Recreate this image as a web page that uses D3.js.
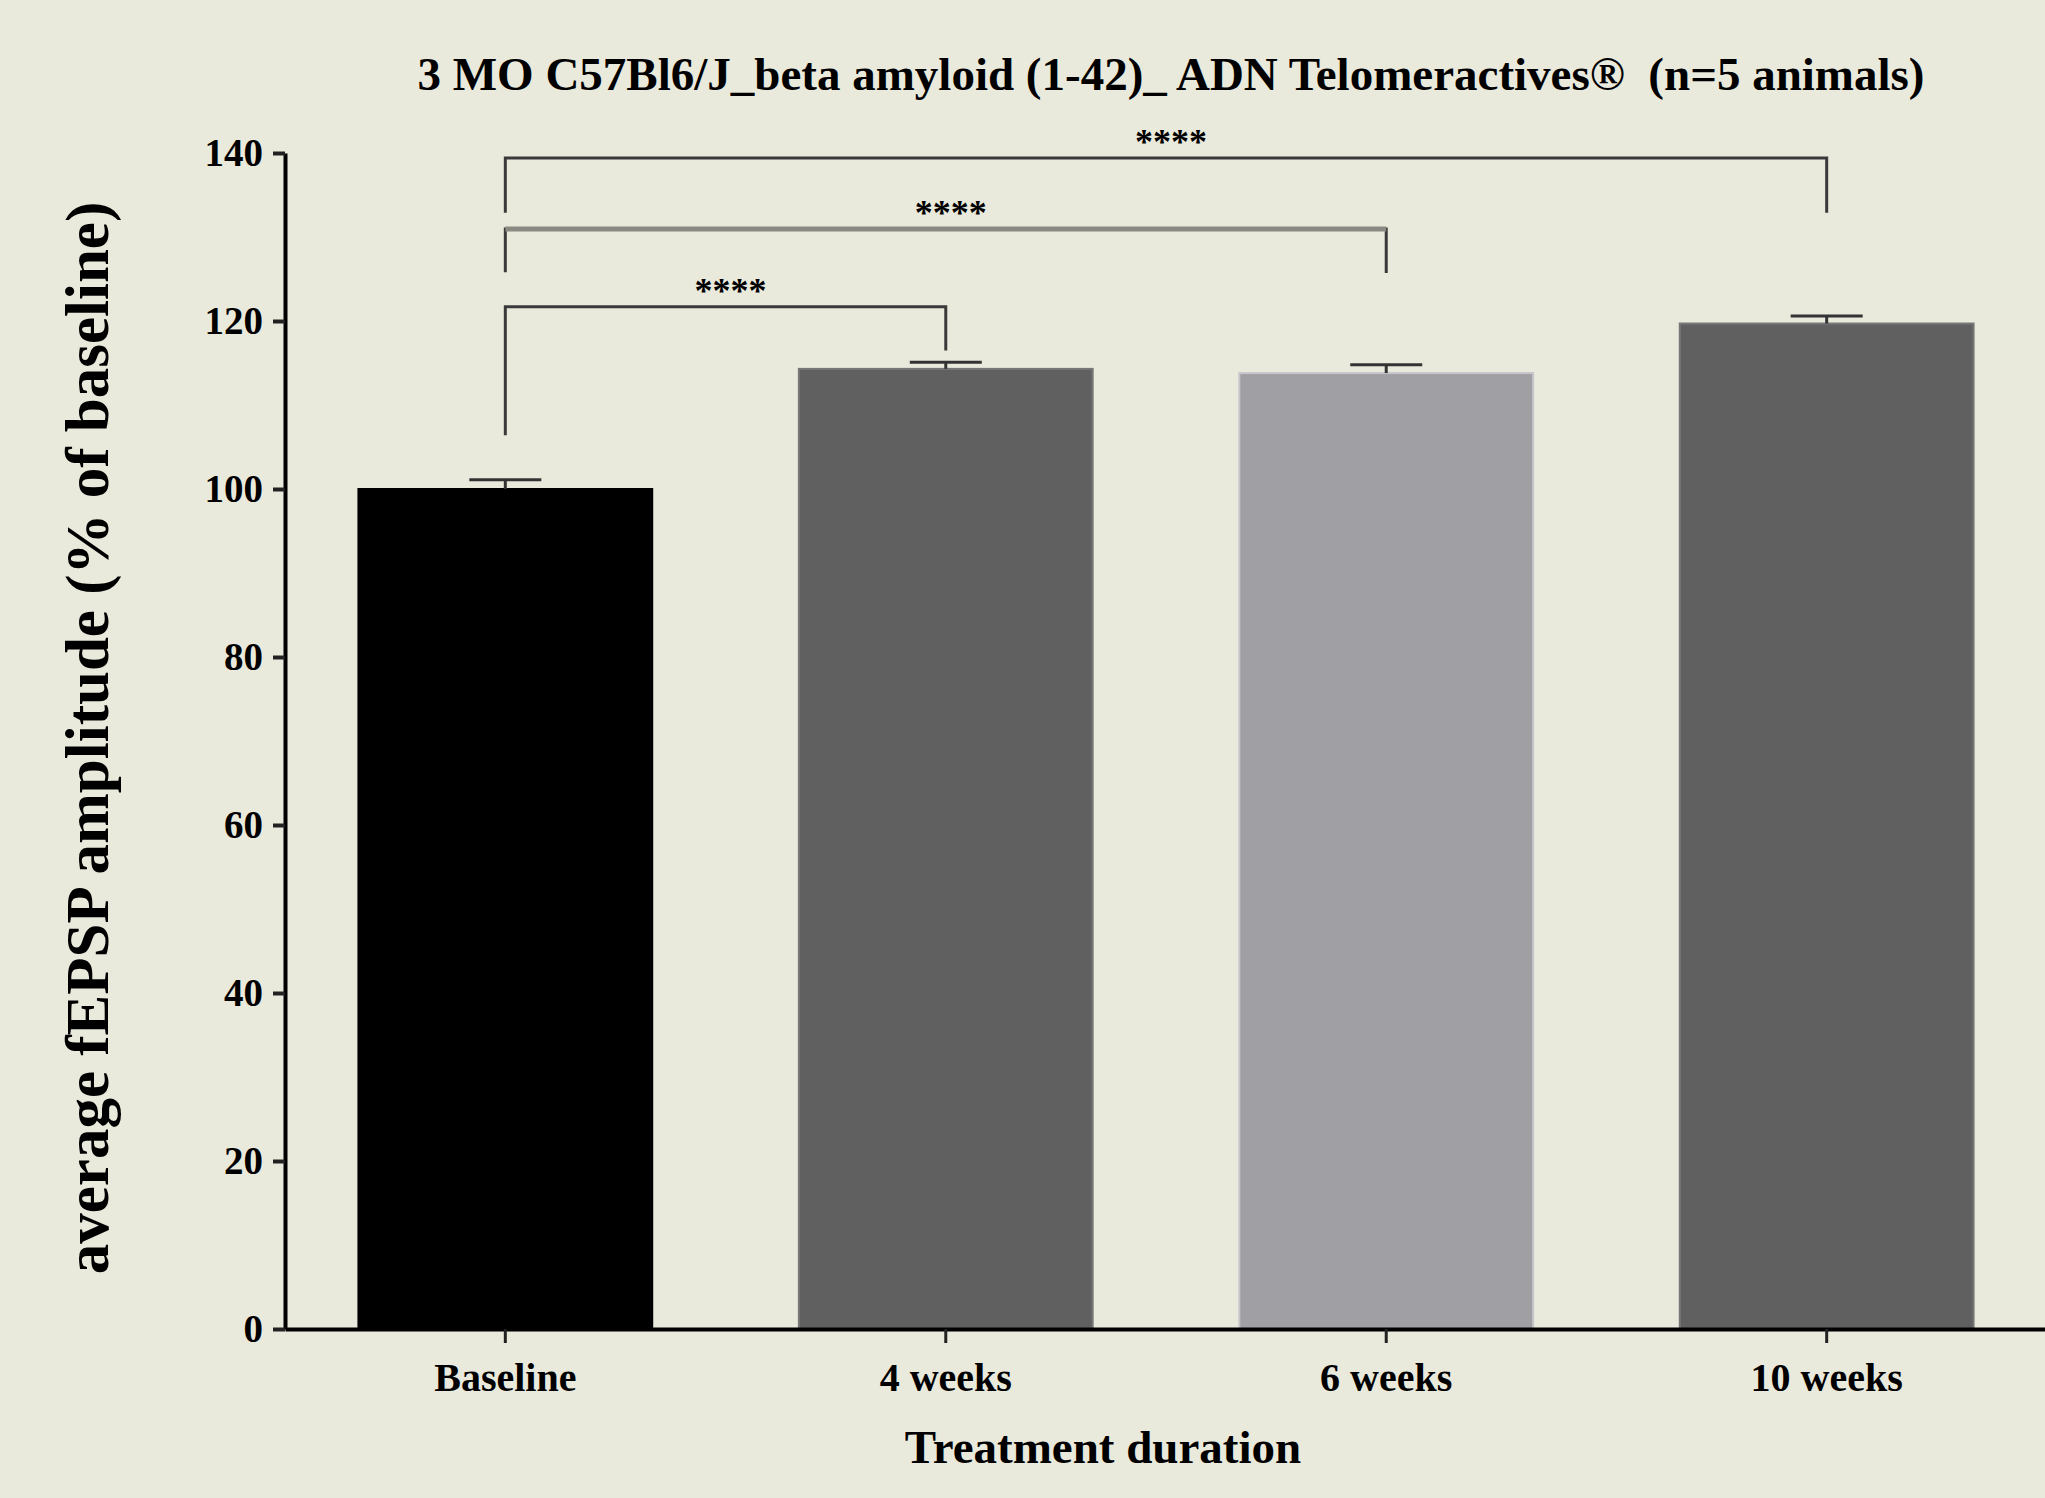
<!DOCTYPE html>
<html>
<head>
<meta charset="utf-8">
<script src="https://cdn.jsdelivr.net/npm/d3@7"></script>
<style>
    body { margin: 0; background: #e9e9dc; }
    svg { display: block; }
    text { font-family: "Liberation Serif", "Times New Roman", serif; font-weight: bold; fill: #000; }
</style>
</head>
<body>
<svg id="chart" width="2045" height="1498"></svg>
<script>
// data
const categories = ['Baseline', '4 weeks', '6 weeks', '10 weeks'];
const means = [100, 114.3, 113.8, 119.7];
const sems = [1.1, 0.8, 1.0, 0.9];
const barColors = ['#000000', '#606060', '#a09fa4', '#606060'];
const yTicks = [0, 20, 40, 60, 80, 100, 120, 140];

// significance brackets: from / to category, height of the bar, leg ends, label
const brackets = [
    {from: 'Baseline', to: '4 weeks', top: 121.7, leftEnd: 106.4, rightEnd: 116.5, label: '****'},
    {from: 'Baseline', to: '6 weeks', top: 130.95, leftEnd: 125.8, rightEnd: 125.7, label: '****'},
    {from: 'Baseline', to: '10 weeks', top: 139.4, leftEnd: 132.9, rightEnd: 132.9, label: '****'}
];

const titleText = '3 MO C57Bl6/J_beta amyloid (1-42)_ ADN Telomeractives\u00AE\u00A0\u00A0(n=5 animals)';
const yLabelText = 'average fEPSP amplitude (% of baseline)';
const xLabelText = 'Treatment duration';

const svg = d3.select('#chart');
const svgWidth = parseInt(svg.attr('width'));
const svgHeight = parseInt(svg.attr('height'));

svg.append('rect')
    .attr('width', svgWidth)
    .attr('height', svgHeight)
    .attr('fill', '#e9e9dc');

// plot area
const plotLeft = 285;
const plotRight = 2047;
const plotTop = 153;
const plotBottom = 1329;

const xScale = d3.scaleBand()
    .domain(categories)
    .range([plotLeft, plotRight])
    .paddingInner(0.333)
    .paddingOuter(0.1667);

const yScale = d3.scaleLinear()
    .domain([0, 140])
    .range([plotBottom, plotTop]);

const rows = categories.map((c, i) => ({cat: c, mean: means[i], sem: sems[i], color: barColors[i]}));

// bars
svg.selectAll('rect.bar')
    .data(rows)
    .enter()
    .append('rect')
    .attr('class', 'bar')
    .attr('x', (d) => xScale(d.cat))
    .attr('y', (d) => yScale(d.mean))
    .attr('width', xScale.bandwidth())
    .attr('height', (d) => yScale(0) - yScale(d.mean))
    .attr('fill', (d) => d.color)
    .attr('stroke', (d) => d3.color(d.color).brighter(0.6))
    .attr('stroke-width', 2);

// error bars (upper only)
const capHalf = 36;
const errors = svg.append('g')
    .attr('stroke', '#333')
    .attr('stroke-width', 3);
rows.forEach((d) => {
    const cx = xScale(d.cat) + xScale.bandwidth() / 2;
    errors.append('line')
        .attr('x1', cx).attr('x2', cx)
        .attr('y1', yScale(d.mean)).attr('y2', yScale(d.mean + d.sem));
    errors.append('line')
        .attr('x1', cx - capHalf).attr('x2', cx + capHalf)
        .attr('y1', yScale(d.mean + d.sem)).attr('y2', yScale(d.mean + d.sem));
});

// axes
const yAxis = d3.axisLeft(yScale)
    .tickValues(yTicks)
    .tickSize(12)
    .tickPadding(10)
    .tickSizeOuter(0);

const yAxisGroup = svg.append('g')
    .attr('transform', `translate(${plotLeft}, 0)`)
    .call(yAxis);
yAxisGroup.select('.domain')
    .attr('stroke', '#000')
    .attr('stroke-width', 4);
yAxisGroup.selectAll('.tick line')
    .attr('stroke', '#222')
    .attr('stroke-width', 4);
yAxisGroup.selectAll('.tick text')
    .attr('font-family', '"Liberation Serif", serif')
    .attr('font-weight', 'bold')
    .attr('font-size', 39)
    .attr('fill', '#000');

const xAxis = d3.axisBottom(xScale)
    .tickSize(14)
    .tickPadding(20)
    .tickSizeOuter(0);

const xAxisGroup = svg.append('g')
    .attr('transform', `translate(0, ${plotBottom})`)
    .call(xAxis);
xAxisGroup.select('.domain')
    .attr('stroke', '#000')
    .attr('stroke-width', 4);
xAxisGroup.selectAll('.tick line')
    .attr('stroke', '#222')
    .attr('stroke-width', 3);
xAxisGroup.selectAll('.tick text')
    .attr('font-family', '"Liberation Serif", serif')
    .attr('font-weight', 'bold')
    .attr('font-size', 40)
    .attr('fill', '#000');

// brackets
const center = (c) => xScale(c) + xScale.bandwidth() / 2;
brackets.forEach((b, i) => {
    const x1 = center(b.from);
    const x2 = center(b.to);
    const yTop = yScale(b.top);
    svg.append('path')
        .attr('d', `M${x1},${yScale(b.leftEnd)}V${yTop}H${x2}V${yScale(b.rightEnd)}`)
        .attr('fill', 'none')
        .attr('stroke', '#3a3a3a')
        .attr('stroke-width', 3);
    if (i === 1) {
        // the middle bracket is drawn with a heavier grey bar
        svg.append('line')
            .attr('x1', x1).attr('x2', x2)
            .attr('y1', yTop).attr('y2', yTop)
            .attr('stroke', '#8a8a82')
            .attr('stroke-width', 5);
    }
    svg.append('text')
        .attr('x', (x1 + x2) / 2 + 5)
        .attr('y', yTop - 4)
        .attr('text-anchor', 'middle')
        .attr('font-size', 36)
        .text(b.label);
});

// title and axis labels
svg.append('text')
    .attr('x', 1171)
    .attr('y', 90)
    .attr('text-anchor', 'middle')
    .attr('font-size', 47)
    .text(titleText);

svg.append('text')
    .attr('text-anchor', 'middle')
    .attr('transform', `translate(108, ${738}) rotate(-90)`)
    .attr('font-size', 61)
    .text(yLabelText);

svg.append('text')
    .attr('x', 1103)
    .attr('y', 1463)
    .attr('text-anchor', 'middle')
    .attr('font-size', 47)
    .text(xLabelText);
</script>
</body>
</html>
